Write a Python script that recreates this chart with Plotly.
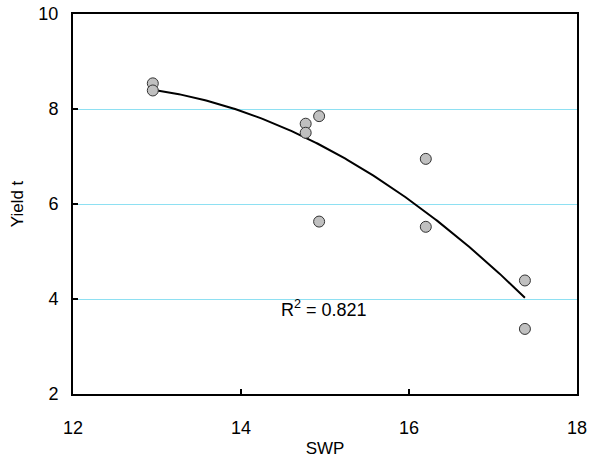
import numpy as np
import plotly.graph_objects as go

# Soil water potential vs yield observations
swp = [12.95, 12.95, 14.77, 14.77, 14.93, 14.93, 16.20, 16.20, 17.38, 17.38]
yield_t = [8.54, 8.39, 7.69, 7.50, 7.85, 5.63, 6.95, 5.52, 4.39, 3.37]

x_ticks = [12, 14, 16, 18]
y_ticks = [2, 4, 6, 8, 10]
r2_label = "R<sup>2</sup> = 0.821"

FONT = "Liberation Sans, Arial"

# Second-order polynomial trendline
coef = np.polyfit(swp, yield_t, 2)
xs = np.linspace(min(swp), max(swp), 200)
ys = np.polyval(coef, xs)

fig = go.Figure()
fig.add_trace(go.Scatter(x=xs, y=ys, mode="lines",
                         line=dict(color="black", width=2), hoverinfo="skip"))
fig.add_trace(go.Scatter(x=swp, y=yield_t, mode="markers",
                         marker=dict(size=11, color="#c0c0c0",
                                     line=dict(color="#333333", width=1))))

fig.add_annotation(x=14.99, y=3.79, text=r2_label, showarrow=False,
                   font=dict(family=FONT, size=18, color="black"))

axis_common = dict(showline=True, linecolor="black", linewidth=2, mirror=True,
                   ticks="inside", ticklen=5, tickwidth=2, tickcolor="black",
                   zeroline=False, automargin=False,
                   tickfont=dict(family=FONT, size=18, color="black"),
                   title_font=dict(family=FONT, size=17, color="black"))

fig.update_xaxes(range=[12, 18], tickvals=x_ticks, showgrid=False,
                 ticklabelstandoff=16,
                 title_text="SWP", title_standoff=6, **axis_common)
fig.update_yaxes(range=[2, 10], tickvals=y_ticks, showgrid=True,
                 gridcolor="#8ee0f2", gridwidth=1,
                 ticklabelstandoff=9,
                 title_text="Yield t", title_standoff=10, **axis_common)

fig.update_layout(width=590, height=461, showlegend=False,
                  plot_bgcolor="white", paper_bgcolor="white",
                  margin=dict(l=73, r=13, t=14, b=67))

fig.write_html("out.html")
